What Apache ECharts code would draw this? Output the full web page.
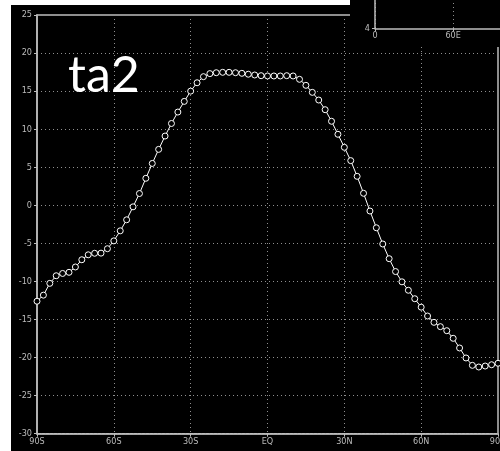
<!DOCTYPE html>
<html><head><meta charset="utf-8">
<script src="https://cdn.jsdelivr.net/npm/echarts@6/dist/echarts.min.js"></script>
<style>html,body{margin:0;padding:0;background:#000}#c{width:500px;height:451px}</style>
</head><body><div id="c"></div>
<script>
const latitudes = [-90, -87.5, -85, -82.5, -80, -77.5, -75, -72.5, -70, -67.5, -65, -62.5, -60,
  -57.5, -55, -52.5, -50, -47.5, -45, -42.5, -40, -37.5, -35, -32.5, -30,
  -27.5, -25, -22.5, -20, -17.5, -15, -12.5, -10, -7.5, -5, -2.5, 0,
  2.5, 5, 7.5, 10, 12.5, 15, 17.5, 20, 22.5, 25, 27.5, 30,
  32.5, 35, 37.5, 40, 42.5, 45, 47.5, 50, 52.5, 55, 57.5, 60,
  62.5, 65, 67.5, 70, 72.5, 75, 77.5, 80, 82.5, 85, 87.5, 90];
const ta2 = [-12.6, -11.8, -10.25, -9.25, -8.95, -8.8, -8.1, -7.15, -6.5, -6.3, -6.28, -5.7, -4.67,
  -3.35, -1.9, -0.2, 1.55, 3.55, 5.5, 7.35, 9.1, 10.75, 12.25, 13.65, 15.0,
  16.1, 16.9, 17.3, 17.42, 17.47, 17.47, 17.42, 17.34, 17.22, 17.12, 17.03, 16.99,
  16.99, 16.99, 17.03, 16.99, 16.55, 15.76, 14.84, 13.83, 12.56, 11.04, 9.33, 7.62,
  5.87, 3.81, 1.58, -0.75, -2.95, -5.08, -7.01, -8.7, -10.05, -11.16, -12.27, -13.38,
  -14.54, -15.37, -15.94, -16.47, -17.47, -18.74, -20.05, -21.02, -21.24, -21.11, -20.94, -20.75];
const xTickLabels = ['90S', '60S', '30S', 'EQ', '30N', '60N', '90N'];
const yRange = [-30, 25];
const insetXTickLabels = ['0', '60E'];
const insetYRange = [4, 4.5];
const titleText = 'ta2';

const labelFont = 'DejaVu Sans Condensed';
const axisCol = '#bdbdbd';
const gridDot = {show: true, lineStyle: {color: '#8f8f8f', type: [1, 3], width: 1}};
const chart = echarts.init(document.getElementById('c'), null, {renderer: 'canvas'});
const option = {
  backgroundColor: '#000',
  animation: false,
  title: {
    text: titleText, left: 63, top: 46, z: 20,
    textStyle: {color: '#fff', fontSize: 50, fontFamily: 'Lato', fontWeight: 'normal'}
  },
  grid: [
    {left: 37, right: 2, top: 15, bottom: 17.3, show: true, borderColor: axisCol, borderWidth: 1.5,
      backgroundColor: 'transparent', containLabel: false, outerBoundsMode: 'none'},
    {left: 375, right: 0, top: -5, height: 33.3, containLabel: false, outerBoundsMode: 'none'}
  ],
  xAxis: [
    {
      type: 'value', gridIndex: 0, min: -90, max: 90, interval: 30,
      axisLine: {show: true, onZero: false, lineStyle: {color: axisCol, width: 1.5}},
      axisTick: {show: true, length: 3, lineStyle: {color: axisCol, width: 1}},
      axisLabel: {color: '#bbb', fontSize: 9, fontFamily: labelFont, margin: 3, showMinLabel: true, showMaxLabel: true,
        alignMinLabel: 'center', alignMaxLabel: 'center', hideOverlap: false,
        formatter: v => xTickLabels[Math.round((v + 90) / 30)]},
      splitLine: gridDot
    },
    {
      type: 'value', gridIndex: 1, min: 0, max: 96, interval: 60, z: 60,
      axisLine: {show: true, onZero: false, lineStyle: {color: axisCol, width: 1.5}},
      axisTick: {show: true, length: 3, lineStyle: {color: axisCol}},
      axisLabel: {color: '#bbb', fontSize: 9, fontFamily: labelFont, margin: 3, showMinLabel: true, showMaxLabel: false,
        alignMinLabel: 'center',
        formatter: v => insetXTickLabels[Math.round(v / 60)] || ''},
      splitLine: gridDot
    }
  ],
  yAxis: [
    {
      type: 'value', gridIndex: 0, min: yRange[0], max: yRange[1], interval: 5,
      axisLine: {show: true, onZero: false, lineStyle: {color: axisCol, width: 1.5}},
      axisTick: {show: true, length: 3, lineStyle: {color: axisCol, width: 1}},
      axisLabel: {color: '#bbb', fontSize: 9, fontFamily: labelFont, margin: 5, showMinLabel: true, showMaxLabel: true},
      splitLine: gridDot
    },
    {
      type: 'value', gridIndex: 1, min: insetYRange[0], max: insetYRange[1], interval: 0.5, z: 60,
      axisLine: {show: true, onZero: false, lineStyle: {color: axisCol, width: 1.5}},
      axisTick: {show: true, length: 3, lineStyle: {color: axisCol}},
      axisLabel: {color: '#bbb', fontSize: 9, fontFamily: labelFont, margin: 5, showMinLabel: true, showMaxLabel: true,
        verticalAlignMaxLabel: 'middle'},
      splitLine: {show: false}
    }
  ],
  graphic: [
    {type: 'rect', left: 350, top: 0, z: 50, shape: {width: 150, height: 47}, style: {fill: '#000'}},
    {type: 'rect', left: 0, top: 0, z: 100, shape: {width: 11, height: 451}, style: {fill: '#fff'}},
    {type: 'rect', left: 0, top: 0, z: 100, shape: {width: 350, height: 5}, style: {fill: '#fff'}}
  ],
  series: [
    {
      type: 'line', xAxisIndex: 0, yAxisIndex: 0,
      data: latitudes.map((x, i) => [x, ta2[i]]),
      symbol: 'circle', symbolSize: 6, showAllSymbol: true,
      lineStyle: {color: '#fff', width: 1},
      itemStyle: {color: '#000', borderColor: '#fff', borderWidth: 1},
      z: 5
    }
  ]
};
chart.setOption(option);
</script>
</body></html>
